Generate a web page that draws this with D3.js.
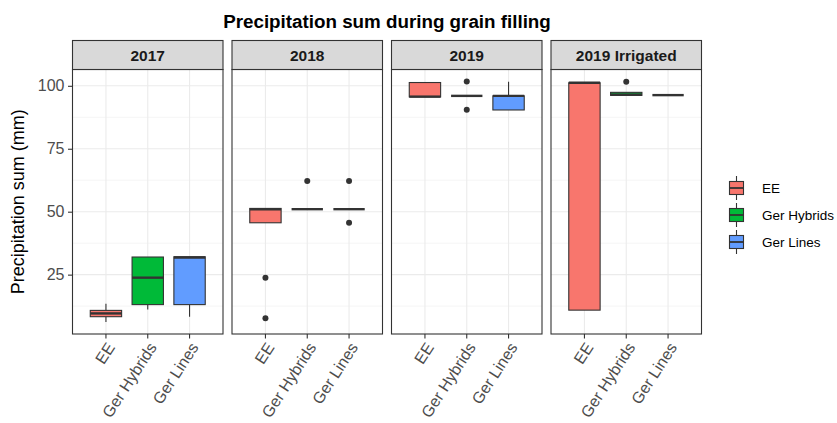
<!DOCTYPE html>
<html>
<head>
<meta charset="utf-8">
<script src="https://cdn.jsdelivr.net/npm/d3@7"></script>
<style>
  html, body { margin: 0; padding: 0; background: #fff; }
  svg { display: block; font-family: "Liberation Sans", Arial, sans-serif; }
</style>
</head>
<body>
<svg id="chart" width="837" height="423"></svg>
<script>
// Facets and groups
const years = ["2017", "2018", "2019", "2019 Irrigated"];
const groups = ["EE", "Ger Hybrids", "Ger Lines"];
const groupColors = ["#F8766D", "#00BA38", "#619CFF"];
const yTicks = [25, 50, 75, 100];

// Box statistics per facet (rows) and group (columns), precipitation sum in mm
const whiskerLow = [
  [6.2, 11.2, 8.3],
  [45.6, 51.0, 51.0],
  [95.6, 96.0, 90.4],
  [10.9, 96.2, 96.3]
];
const q1 = [
  [8.3, 13.1, 13.1],
  [45.6, 51.0, 51.0],
  [95.6, 96.0, 90.4],
  [10.9, 96.2, 96.3]
];
const median = [
  [9.6, 23.8, 31.8],
  [51.0, 51.0, 51.0],
  [95.7, 96.0, 96.0],
  [101.2, 96.5, 96.3]
];
const q3 = [
  [10.8, 32.0, 32.1],
  [51.3, 51.0, 51.0],
  [101.3, 96.0, 96.0],
  [101.2, 97.4, 96.3]
];
const whiskerHigh = [
  [13.4, 32.0, 32.1],
  [51.3, 51.0, 51.0],
  [101.3, 96.0, 101.6],
  [101.2, 97.4, 96.3]
];
const outliers = [
  [[], [], []],
  [[23.8, 7.7], [62.2], [62.2, 45.6]],
  [[], [101.7, 90.5], []],
  [[], [101.6], []]
];

const svg = d3.select("#chart");

// Facet geometry
const panelLeft = 72.5, panelWidth = 150.5, panelGap = 9;
const stripTop = 40.5, stripH = 29, panelTop = stripTop + stripH, panelBottom = 334;

// y scale with 5% expansion of the data range
const allVals = [];
years.forEach((_, i) => groups.forEach((_, j) => {
  allVals.push(whiskerLow[i][j], whiskerHigh[i][j], ...outliers[i][j]);
}));
const yMin = d3.min(allVals), yMax = d3.max(allVals), pad = (yMax - yMin) * 0.05;
const y = d3.scaleLinear().domain([yMin - pad, yMax + pad]).range([panelBottom, panelTop]);

// Discrete x scale inside each facet
const x = d3.scaleBand().domain(groups).range([0, panelWidth]).paddingOuter(0.3).paddingInner(0);
const boxW = x.bandwidth() * 0.75;
const minorTicks = d3.range(12.5, 110, 25);

// Title
svg.append("text")
  .attr("x", panelLeft + (4 * panelWidth + 3 * panelGap) / 2)
  .attr("y", 28)
  .attr("text-anchor", "middle")
  .attr("font-size", 18.8)
  .attr("font-weight", "bold")
  .attr("fill", "#000")
  .text("Precipitation sum during grain filling");

// y axis title
svg.append("text")
  .attr("transform", `translate(24,${(panelTop + panelBottom) / 2}) rotate(-90)`)
  .attr("text-anchor", "middle")
  .attr("font-size", 18)
  .attr("fill", "#000")
  .text("Precipitation sum (mm)");

years.forEach((yr, i) => {
  const px = panelLeft + i * (panelWidth + panelGap);
  const g = svg.append("g").attr("transform", `translate(${px},0)`);

  // Panel background and grid
  g.append("rect").attr("x", 0).attr("y", panelTop)
    .attr("width", panelWidth).attr("height", panelBottom - panelTop).attr("fill", "#fff");
  g.selectAll(".minor").data(minorTicks.filter(v => y(v) > panelTop && y(v) < panelBottom))
    .enter().append("line")
    .attr("x1", 0).attr("x2", panelWidth)
    .attr("y1", d => y(d)).attr("y2", d => y(d))
    .attr("stroke", "#F3F3F3").attr("stroke-width", 0.8);
  g.selectAll(".major").data(yTicks).enter().append("line")
    .attr("x1", 0).attr("x2", panelWidth)
    .attr("y1", d => y(d)).attr("y2", d => y(d))
    .attr("stroke", "#EBEBEB").attr("stroke-width", 1.1);
  g.selectAll(".vmajor").data(groups).enter().append("line")
    .attr("x1", d => x(d) + x.bandwidth() / 2).attr("x2", d => x(d) + x.bandwidth() / 2)
    .attr("y1", panelTop).attr("y2", panelBottom)
    .attr("stroke", "#EBEBEB").attr("stroke-width", 1.1);

  // Boxplots
  groups.forEach((grp, j) => {
    const cx = x(grp) + x.bandwidth() / 2;
    const bg = g.append("g");
    // whiskers
    bg.append("line").attr("x1", cx).attr("x2", cx)
      .attr("y1", y(q3[i][j])).attr("y2", y(whiskerHigh[i][j]))
      .attr("stroke", "#333").attr("stroke-width", 1.1);
    bg.append("line").attr("x1", cx).attr("x2", cx)
      .attr("y1", y(q1[i][j])).attr("y2", y(whiskerLow[i][j]))
      .attr("stroke", "#333").attr("stroke-width", 1.1);
    // box
    bg.append("rect")
      .attr("x", cx - boxW / 2).attr("width", boxW)
      .attr("y", y(q3[i][j])).attr("height", Math.max(0, y(q1[i][j]) - y(q3[i][j])))
      .attr("fill", groupColors[j]).attr("stroke", "#333").attr("stroke-width", 1.1);
    // median
    bg.append("line")
      .attr("x1", cx - boxW / 2).attr("x2", cx + boxW / 2)
      .attr("y1", y(median[i][j])).attr("y2", y(median[i][j]))
      .attr("stroke", "#333").attr("stroke-width", 2.4);
    // outliers
    bg.selectAll("circle").data(outliers[i][j]).enter().append("circle")
      .attr("cx", cx).attr("cy", d => y(d)).attr("r", 3)
      .attr("fill", "#333");
  });

  // Panel border
  g.append("rect").attr("x", 0).attr("y", panelTop)
    .attr("width", panelWidth).attr("height", panelBottom - panelTop)
    .attr("fill", "none").attr("stroke", "#333").attr("stroke-width", 1.1);

  // Strip
  g.append("rect").attr("x", 0).attr("y", stripTop)
    .attr("width", panelWidth).attr("height", stripH)
    .attr("fill", "#D9D9D9").attr("stroke", "#333").attr("stroke-width", 1.1);
  g.append("text")
    .attr("x", panelWidth / 2).attr("y", stripTop + stripH / 2 + 5.5)
    .attr("text-anchor", "middle").attr("font-size", 15.5).attr("font-weight", "bold")
    .attr("fill", "#1A1A1A").text(yr);

  // x axis
  const xa = g.append("g").attr("transform", `translate(0,${panelBottom})`)
    .call(d3.axisBottom(x).tickSize(4.5).tickSizeOuter(0));
  xa.select(".domain").remove();
  xa.selectAll(".tick line").attr("stroke", "#333").attr("stroke-width", 1.1);
  xa.selectAll(".tick text")
    .attr("fill", "#4D4D4D").attr("font-size", 16)
    .attr("font-family", "Liberation Sans, Arial, sans-serif")
    .attr("text-anchor", "end")
    .attr("dy", null).attr("y", null)
    .attr("transform", "translate(6,11) rotate(-57)")
    .attr("dominant-baseline", "middle");

  // y axis on the first facet only
  if (i === 0) {
    const ya = g.append("g").call(d3.axisLeft(y).tickValues(yTicks).tickSize(4.5).tickSizeOuter(0));
    ya.select(".domain").remove();
    ya.selectAll(".tick line").attr("stroke", "#333").attr("stroke-width", 1.1);
    ya.selectAll(".tick text").attr("fill", "#4D4D4D").attr("font-size", 16)
      .attr("font-family", "Liberation Sans, Arial, sans-serif").attr("x", -8);
  }
});

// Legend
const legX = 729.5, legY0 = 188, legStep = 27, keyW = 14, keyH = 13;
const leg = svg.append("g");
groups.forEach((grp, j) => {
  const cy = legY0 + j * legStep;
  const cx = legX + keyW / 2;
  leg.append("line").attr("x1", cx).attr("x2", cx).attr("y1", cy - 12).attr("y2", cy + 12)
    .attr("stroke", "#333").attr("stroke-width", 1.1);
  leg.append("rect").attr("x", legX).attr("y", cy - keyH / 2).attr("width", keyW).attr("height", keyH)
    .attr("fill", groupColors[j]).attr("stroke", "#333").attr("stroke-width", 1.1);
  leg.append("line").attr("x1", legX).attr("x2", legX + keyW).attr("y1", cy).attr("y2", cy)
    .attr("stroke", "#333").attr("stroke-width", 1.8);
  leg.append("text").attr("x", 762).attr("y", cy + 5).attr("font-size", 13.5)
    .attr("fill", "#000").text(grp);
});
</script>
</body>
</html>
